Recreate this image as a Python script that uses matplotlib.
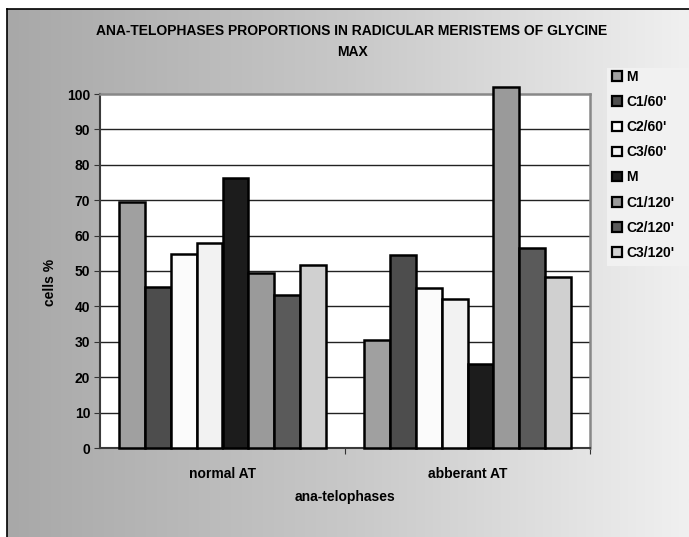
import numpy as np
import matplotlib.pyplot as plt
from matplotlib.colors import LinearSegmentedColormap

# data
categories = ['normal AT', 'abberant AT']
series_names = ['M', "C1/60'", "C2/60'", "C3/60'", 'M', "C1/120'", "C2/120'", "C3/120'"]
normal_at = [69.5, 45.5, 54.7, 57.8, 76.2, 49.5, 43.3, 51.6]
abberant_at = [30.5, 54.5, 45.3, 42.2, 23.8, 102.0, 56.6, 48.4]
bar_colors = ['#a0a0a0', '#4d4d4d', '#fbfbfb', '#f2f2f2', '#1c1c1c', '#9a9a9a', '#5a5a5a', '#d0d0d0']
yticks = np.arange(0, 101, 10)

plt.rcParams['font.family'] = ['Liberation Sans', 'DejaVu Sans']
plt.rcParams['font.weight'] = 'bold'
fs = 10

fig = plt.figure(figsize=(6.89, 5.37), dpi=100)
fig.patch.set_facecolor('white')

# gradient background of the chart area, black border on left/top
bg = fig.add_axes([7/689, 0, 1 - 7/689, (537 - 9)/537])
grad = np.linspace(0, 1, 256).reshape(1, -1)
cmap = LinearSegmentedColormap.from_list('g', ['#a8a8a8', '#c8c8c8', '#f0f0f0'])
bg.imshow(grad, aspect='auto', cmap=cmap, extent=[0, 1, 0, 1])
bg.set_xlim(0, 1)
bg.set_ylim(0, 1)
bg.set_xticks([])
bg.set_yticks([])
for s in ['right', 'bottom']:
    bg.spines[s].set_visible(False)
for s in ['left', 'top']:
    bg.spines[s].set_color('black')
    bg.spines[s].set_linewidth(1.2)

# legend background panel (slightly lighter)
fig.patches.append(plt.Rectangle((607/689, (537 - 266)/537), 82/689, 198/537,
                                 transform=fig.transFigure, facecolor='#f1f1f1', edgecolor='none', zorder=0.5))

ax = fig.add_axes([100/689, (537 - 448)/537, 490/689, (448 - 94)/537])
ax.set_facecolor('white')

n = len(series_names)
gap = 1.5
bw = 1.0 / (n + gap)
x = np.arange(len(categories))
handles = []
for i in range(n):
    vals = [normal_at[i], abberant_at[i]]
    pos = x - 0.5 + bw * (gap / 2 + i + 0.5)
    b = ax.bar(pos, vals, width=bw, color=bar_colors[i], edgecolor='black', linewidth=1.8,
               zorder=3, clip_on=False, label=series_names[i])
    handles.append(b)

ax.set_xlim(-0.5, 1.5)
ax.set_ylim(0, 100)
ax.set_yticks(yticks)
ax.set_yticklabels([str(v) for v in yticks], fontsize=fs, fontweight='bold')
ax.set_xticks([0.5, 1.5], minor=False)
ax.set_xticklabels([])
ax.set_xticks(x, minor=True)
ax.set_xticklabels(categories, minor=True, fontsize=fs, fontweight='bold')
ax.tick_params(axis='x', which='minor', length=0, pad=14)
ax.tick_params(axis='x', which='major', length=4, direction='out', color='#333333')
ax.tick_params(axis='y', length=4, direction='out', color='#333333', pad=3)

for v in yticks[1:-1]:
    ax.axhline(v, color='#222222', linewidth=1.0, zorder=1)

ax.spines['left'].set_color('#3a3a3a')
ax.spines['left'].set_linewidth(1.5)
ax.spines['bottom'].set_color('#3a3a3a')
ax.spines['bottom'].set_linewidth(1.5)
ax.spines['top'].set_color('#888888')
ax.spines['top'].set_linewidth(1.8)
ax.spines['right'].set_color('#888888')
ax.spines['right'].set_linewidth(1.8)

fig.text(352/689, 1 - 31/537, 'ANA-TELOPHASES PROPORTIONS IN RADICULAR MERISTEMS OF GLYCINE',
         ha='center', va='center', fontsize=fs, fontweight='bold')
fig.text(352/689, 1 - 52/537, 'MAX', ha='center', va='center', fontsize=fs, fontweight='bold')
fig.text(345/689, 1 - 497/537, 'ana-telophases', ha='center', va='center', fontsize=fs, fontweight='bold')
fig.text(50/689, 1 - 282/537, 'cells %', ha='center', va='center', rotation=90, fontsize=fs, fontweight='bold')

leg = fig.legend(handles=handles, labels=series_names, loc='upper left',
                 bbox_to_anchor=(612/689, 1 - 70/537), frameon=False, fontsize=fs,
                 handlelength=0.7, handleheight=0.7, handletextpad=0.3, labelspacing=0.8,
                 borderaxespad=0, borderpad=0)
for h in leg.legend_handles:
    h.set_linewidth(1.6)

fig.savefig('out.png', dpi=100)
